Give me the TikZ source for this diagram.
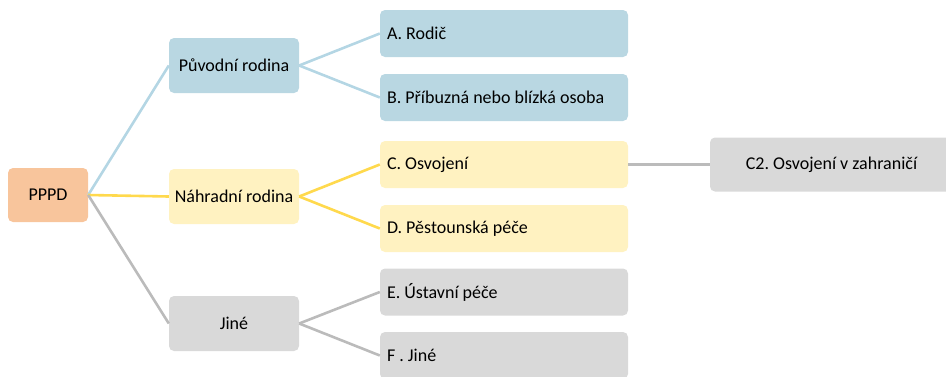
\documentclass[tikz,border=0pt]{standalone}
\usepackage{fontspec}
\setmainfont{Carlito}
\usetikzlibrary{positioning}
\definecolor{pppdfill}{HTML}{F8C59C}
\definecolor{bluefill}{HTML}{B9D7E2}
\definecolor{blueline}{HTML}{B4D6E4}
\definecolor{yellowfill}{HTML}{FFF2C1}
\definecolor{yellowline}{HTML}{FFD94D}
\definecolor{grayfill}{HTML}{D9D9D9}
\definecolor{grayline}{HTML}{BBBBBB}
\tikzset{
    box/.style={rounded corners=5pt,inner sep=0pt,font=\fontsize{18}{21}\selectfont\frenchspacing},
    root box/.style={box,fill=pppdfill,minimum width=80pt,minimum height=54pt},
    mid box/.style={box,fill=#1,minimum width=130pt,minimum height=55pt},
    leaf box/.style={box,fill=#1,minimum height=47pt,text width=234pt,inner xsep=7pt,align=flush left},
    far box/.style={box,fill=#1,minimum width=243pt,minimum height=54pt},
    link/.style={line width=2.6pt,color=#1},
}

\begin{document}
\begin{tikzpicture}[x=1pt,y=-1pt]
    \useasboundingbox (0,0) rectangle (946,376);
    \clip (0,0) rectangle (946,376);
    % root and first level
    \node[root box] (pppd) at (48,195) {PPPD};
    \node[mid box=bluefill] (puvodni) at (234,65.5) {Původní rodina};
    \node[mid box=yellowfill] (nahradni) at (234,196.5) {Náhradní rodina};
    \node[mid box=grayfill] (jine) at (234,323.5) {Jiné};
    % second level
    \node[leaf box=bluefill] (rodic) at (504,33.5) {A. Rodič};
    \node[leaf box=bluefill] (pribuzna) at (504,97.5) {B. Příbuzná nebo blízká osoba};
    \node[leaf box=yellowfill] (osvojeni) at (504,164.5) {C. Osvojení};
    \node[leaf box=yellowfill] (pestoun) at (504,228.5) {D. Pěstounská péče};
    \node[leaf box=grayfill] (ustavni) at (504,292) {E. Ústavní péče};
    \node[leaf box=grayfill] (jinef) at (504,355.5) {F . Jiné};
    \node[far box=grayfill] (zahranici) at (831.5,164.5) {C2. Osvojení v zahraničí};

    \draw[link=blueline] (pppd.east) -- (puvodni.west);
    \draw[link=yellowline] (pppd.east) -- (nahradni.west);
    \draw[link=grayline] (pppd.east) -- (jine.west);

    \draw[link=blueline] (puvodni.east) -- (rodic.west);
    \draw[link=blueline] (puvodni.east) -- (pribuzna.west);
    \draw[link=yellowline] (nahradni.east) -- (osvojeni.west);
    \draw[link=yellowline] (nahradni.east) -- (pestoun.west);
    \draw[link=grayline] (jine.east) -- (ustavni.west);
    \draw[link=grayline] (jine.east) -- (jinef.west);

    \draw[link=grayline] (osvojeni.east) -- (zahranici.west);
\end{tikzpicture}
\end{document}
